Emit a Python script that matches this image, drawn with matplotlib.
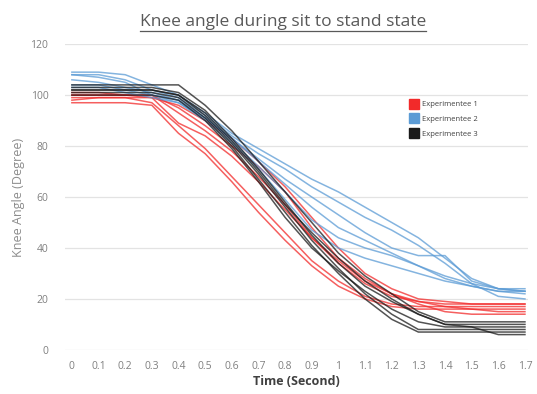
import numpy as np
import matplotlib.pyplot as plt
from matplotlib.lines import Line2D

plt.rcParams['font.family'] = ['Open Sans', 'DejaVu Sans']

time = [round(0.1 * i, 1) for i in range(18)]

# Experimentee 1 (red)
exp1 = [
    [97, 97, 97, 96, 85, 77, 66, 54, 43, 33, 25, 20, 17, 16, 16, 16, 15, 15],
    [99, 99, 99, 97, 88, 79, 68, 57, 46, 35, 27, 21, 18, 17, 17, 17, 17, 17],
    [100, 100, 100, 99, 89, 84, 76, 66, 55, 44, 34, 26, 21, 19, 18, 18, 18, 18],
    [101, 101, 100, 100, 93, 86, 78, 68, 57, 44, 35, 27, 22, 19, 17, 16, 16, 16],
    [100, 100, 100, 100, 95, 88, 80, 72, 62, 48, 36, 28, 22, 18, 15, 14, 14, 14],
    [98, 99, 99, 99, 96, 90, 83, 74, 64, 52, 40, 30, 24, 20, 19, 18, 18, 18],
]

# Experimentee 2 (blue)
exp2 = [
    [109, 109, 108, 104, 100, 93, 85, 79, 73, 67, 62, 56, 50, 44, 36, 28, 24, 23],
    [108, 108, 106, 102, 99, 92, 84, 77, 71, 64, 58, 52, 47, 41, 34, 26, 21, 20],
    [106, 105, 103, 101, 98, 91, 83, 75, 67, 60, 53, 46, 40, 37, 37, 27, 24, 23],
    [104, 104, 102, 100, 98, 91, 82, 72, 62, 51, 44, 40, 37, 33, 29, 26, 24, 24],
    [103, 103, 101, 99, 97, 90, 81, 71, 59, 47, 40, 36, 33, 30, 27, 25, 23, 22],
    [108, 107, 105, 100, 97, 91, 83, 74, 65, 56, 48, 43, 38, 33, 28, 25, 23, 23],
]

# Experimentee 3 (black)
exp3 = [
    [104, 104, 104, 104, 104, 96, 86, 74, 62, 50, 38, 29, 22, 15, 11, 11, 11, 11],
    [103, 103, 103, 103, 101, 94, 83, 71, 58, 45, 34, 25, 19, 14, 10, 10, 10, 10],
    [102, 102, 102, 102, 100, 92, 81, 69, 56, 43, 32, 22, 14, 8, 8, 8, 8, 8],
    [101, 101, 101, 101, 99, 91, 80, 67, 54, 41, 30, 20, 12, 7, 7, 7, 7, 7],
    [100, 100, 100, 100, 98, 90, 79, 66, 52, 40, 31, 23, 16, 11, 9, 9, 6, 6],
    [102, 102, 102, 102, 100, 93, 82, 70, 57, 46, 36, 27, 20, 14, 10, 9, 9, 9],
]

labels = ['Experimentee 1', 'Experimentee 2', 'Experimentee 3']
colors = ['#f22a2a', '#5b9bd5', '#1a1a1a']

fig = plt.figure(figsize=(5.37, 3.94), dpi=100)
ax = fig.add_axes([0.121, 0.112, 0.862, 0.776])

for group, c in zip([exp1, exp2, exp3], colors):
    for curve in group:
        ax.plot(time, curve, color=c, lw=1.1, alpha=0.75)

ax.set_xlim(-0.026, 1.711)
ax.set_ylim(0, 120)
ax.set_xticks(time)
ax.set_xticklabels([f'{t:g}' for t in time])
ax.set_yticks(range(0, 121, 20))
ax.grid(axis='y', color='#e3e3e3', lw=0.9)
ax.set_axisbelow(True)
for s in ax.spines.values():
    s.set_visible(False)
ax.tick_params(length=0, colors='#808080', labelsize=7.5, pad=8)
ax.tick_params(axis='y', pad=12)

ax.set_ylabel('Knee Angle (Degree)', color='#8c8c8c', fontsize=9, labelpad=4)
ax.set_xlabel('Time (Second)', color='#404040', fontsize=9, fontweight='bold', labelpad=2)

handles = [Line2D([], [], marker='s', color=c, ls='none', markersize=6.5) for c in colors]
leg = ax.legend(handles, labels, loc='upper left', bbox_to_anchor=(0.73, 0.837),
                frameon=False, fontsize=5.5, handletextpad=0.6, labelspacing=1.0,
                handlelength=1.0)
for t in leg.get_texts():
    t.set_color('#404040')

title = fig.text(0.527, 0.945, 'Knee angle during sit to stand state', ha='center', va='center',
                 fontsize=12.5, color='#595959')

# underline the title
fig.canvas.draw()
bb = title.get_window_extent().transformed(fig.transFigure.inverted())
fig.add_artist(Line2D([bb.x0, bb.x1], [bb.y0 - 0.004, bb.y0 - 0.004],
                      transform=fig.transFigure, color='#595959', lw=0.9))

fig.savefig('out.png', dpi=100)
